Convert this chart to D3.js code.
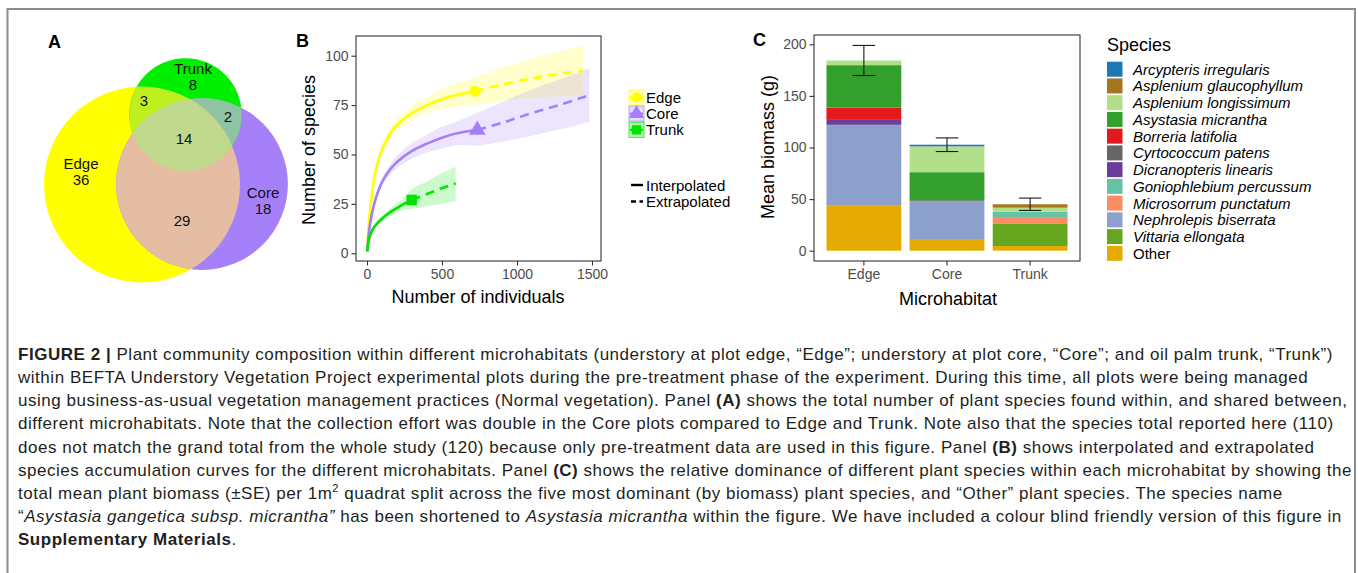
<!DOCTYPE html>
<html>
<head>
<meta charset="utf-8">
<script src="https://cdn.jsdelivr.net/npm/d3@7"></script>
<style>
  body { margin: 0; background: #fff; }
  text { font-family: "Liberation Sans", Arial, sans-serif; }
</style>
</head>
<body>
<svg id="fig" width="1358" height="573"></svg>
<script>
// ---- panel A data (venn region counts)
var vennRegions = ["Edge", "Core", "Trunk", "Edge+Trunk", "Core+Trunk", "Edge+Core+Trunk", "Edge+Core"];
var vennCounts = [36, 18, 8, 3, 2, 14, 29];
var vennSets = ["Edge", "Core", "Trunk"];

// ---- panel B data: [individuals, species, lower, upper]
var edgeInterp = [[1,1,1,1],[12,15,14.5,15.5],[25,25,24,26],[50,39,37.5,40.5],[75,47,45.5,48.5],[100,52.5,50.5,54.5],[150,60,57.5,62.5],[200,65,62,68],
  [300,71,67.5,74.5],[400,75,71,79],[500,78,73,83],[600,80.2,74.2,86.2],[720,82,75,89]];
var edgeExtrap = [[720,82,75,89],[900,85.5,77,94],[1100,88.5,78.5,98.5],[1300,91,79.5,102.5],[1440,92.4,80,105]];
var coreInterp = [[1,1,1,1],[12,10,9.5,10.5],[25,17,16,18],[50,25.5,24,27],[75,31.5,30,33],[100,36,34,38],[150,42,39.5,44.5],[200,46.2,43,49.4],
  [300,51.8,47.8,55.8],[400,55.5,51,60],[500,58.5,53,64],[600,60.7,54.7,66.7],[735,62.4,54.5,71]];
var coreExtrap = [[735,62.4,54.5,71],[900,66,56.5,76.5],[1100,71,59.5,83],[1300,75.5,63,88.5],[1482,80,66.5,93.5]];
var trunkInterp = [[1,1,1,1],[12,6.5,6.2,6.8],[25,10,9.5,10.5],[50,13.5,12.5,14.5],[100,17.5,16,19],[150,20.5,18.5,22.5],
  [200,22.9,20.6,25.2],[250,25.1,22.1,28.1],[298,27,22.5,32.5]];
var trunkExtrap = [[298,27,22.5,32.5],[400,30,23.8,36.5],[500,33,25.2,40.5],[591,35.4,26.5,43.8]];
var curveNames = ["Edge", "Core", "Trunk"];
var curveColors = ["#FFFF00", "#A47FF7", "#00E400"];
var xTicksB = [0, 500, 1000, 1500];
var yTicksB = [0, 25, 50, 75, 100];

// ---- panel C data
var microhabitats = ["Edge", "Core", "Trunk"];
var species = ["Arcypteris irregularis", "Asplenium glaucophyllum", "Asplenium longissimum", "Asystasia micrantha",
  "Borreria latifolia", "Cyrtococcum patens", "Dicranopteris linearis", "Goniophlebium percussum",
  "Microsorrum punctatum", "Nephrolepis biserrata", "Vittaria ellongata", "Other"];
var speciesColors = ["#1F78B4", "#A6761D", "#B2DF8A", "#33A02C", "#E31A1C", "#666666", "#6A3D9A", "#66C2A5",
  "#FC8D62", "#8DA0CB", "#66A61E", "#E6AB02"];
var edgeBiomass  = [0,   0,   4.5, 41,   11.3, 0,   5.5, 0,   0,   78.5, 0,  43.5];
var coreBiomass  = [1.6, 0,   25,  27.2, 0,    0.8, 0,   0,   0,   36.8, 0,  11.3];
var trunkBiomass = [0,   3.3, 3.9, 0,    0,    0,   0,   5.2, 6.1, 0,    22, 4.5];
var biomassSE = [14.6, 6.6, 6];
var yTicksC = [0, 50, 100, 150, 200];

var svg = d3.select("#fig");
var axisGrey = "#333333", tickText = "#4D4D4D";

// figure frame
svg.append("path").attr("d", "M7.5,573V9H1355V573").attr("fill", "none")
  .attr("stroke", "#8c8c8c").attr("stroke-width", 2);

// panel letters
[["A", 48, 48], ["B", 296, 47], ["C", 753, 46]].forEach(function (p) {
  svg.append("text").attr("x", p[1]).attr("y", p[2]).text(p[0])
    .style("font-weight", "bold").style("font-size", "18px").attr("fill", "#000");
});

// ================= Panel A: Venn =================
var setTotals = vennSets.map(function (s) {
  return d3.sum(vennRegions, function (r, i) { return r.split("+").indexOf(s) >= 0 ? vennCounts[i] : 0; });
});
var rScale = d3.scaleSqrt().domain([0, d3.max(setTotals)]).range([0, 98]);
var vennCentre = {Edge: [142, 184.5], Core: [202, 184], Trunk: [185.5, 114.5]};
var regionFill = {"Edge": "#FFFF00", "Core": "#A680F8", "Trunk": "#00EE00", "Edge+Core": "#E5BDA3",
  "Edge+Trunk": "#BDF01E", "Core+Trunk": "#8EC3A4", "Edge+Core+Trunk": "#C1D98C"};
var labelPos = {"Edge": [81, 163], "Core": [263, 192], "Trunk": [193, 68], "Edge+Trunk": [144, 100],
  "Core+Trunk": [228, 116], "Edge+Core+Trunk": [184, 138], "Edge+Core": [182, 220]};

var defs = svg.append("defs");
vennSets.forEach(function (s, i) {
  defs.append("clipPath").attr("id", "clip-" + s).append("circle")
    .attr("cx", vennCentre[s][0]).attr("cy", vennCentre[s][1]).attr("r", rScale(setTotals[i]));
});
var venn = svg.append("g");
function vennCircle(sel, s) {
  var i = vennSets.indexOf(s);
  return sel.append("circle").attr("cx", vennCentre[s][0]).attr("cy", vennCentre[s][1]).attr("r", rScale(setTotals[i]));
}
// single sets, then pairs, then triple
vennRegions.slice().sort(function (a, b) { return a.split("+").length - b.split("+").length; })
  .forEach(function (r) {
    var parts = r.split("+");
    var g = venn;
    parts.slice(0, -1).forEach(function (s) { g = g.append("g").attr("clip-path", "url(#clip-" + s + ")"); });
    vennCircle(g, parts[parts.length - 1]).attr("fill", regionFill[r]);
  });
vennRegions.forEach(function (r, i) {
  var p = labelPos[r];
  var t = venn.append("text").attr("x", p[0]).attr("y", p[1]).attr("text-anchor", "middle")
    .attr("dominant-baseline", "central").style("font-size", "15px").attr("fill", "#111");
  if (r.indexOf("+") < 0) {
    t.text(r);
    venn.append("text").attr("x", p[0]).attr("y", p[1] + 16.5).attr("text-anchor", "middle")
      .attr("dominant-baseline", "central").style("font-size", "15px").attr("fill", "#111").text(vennCounts[i]);
  } else {
    t.text(vennCounts[i]);
  }
});

// ================= Panel B: accumulation curves =================
var xB = d3.scaleLinear().domain([0, 1500]).range([367, 592]);
var yB = d3.scaleLinear().domain([0, 100]).range([253.3, 55.7]);
var gB = svg.append("g");
var bands = [[edgeInterp, edgeExtrap], [coreInterp, coreExtrap], [trunkInterp, trunkExtrap]];

var area = d3.area().x(function (d) { return xB(d[0]); }).y0(function (d) { return yB(d[2]); })
  .y1(function (d) { return yB(d[3]); }).curve(d3.curveCatmullRom.alpha(0.5));
var line = d3.line().x(function (d) { return xB(d[0]); }).y(function (d) { return yB(d[1]); })
  .curve(d3.curveCatmullRom.alpha(0.5));

bands.forEach(function (b, i) {
  gB.append("path").datum(b[0].concat(b[1].slice(1))).attr("d", area)
    .attr("fill", curveColors[i]).attr("fill-opacity", 0.2);
});
bands.forEach(function (b, i) {
  gB.append("path").datum(b[0]).attr("d", line).attr("fill", "none")
    .attr("stroke", curveColors[i]).attr("stroke-width", 2.6);
  gB.append("path").datum(b[1]).attr("d", line).attr("fill", "none")
    .attr("stroke", curveColors[i]).attr("stroke-width", 2.6).attr("stroke-dasharray", "9,6");
});
var symbols = [d3.symbolCircle, d3.symbolTriangle, d3.symbolSquare];
var symSize = [100, 120, 110];
bands.forEach(function (b, i) {
  var obs = b[0][b[0].length - 1];
  gB.append("path").attr("d", d3.symbol().type(symbols[i]).size(symSize[i])())
    .attr("transform", "translate(" + xB(obs[0]) + "," + yB(obs[1]) + ")").attr("fill", curveColors[i]);
});

// panel B frame + axes
gB.append("rect").attr("x", 356).attr("y", 36).attr("width", 245).attr("height", 225)
  .attr("fill", "none").attr("stroke", axisGrey).attr("stroke-width", 1.1);
function styleAxis(g) {
  g.select(".domain").remove();
  g.selectAll(".tick line").attr("stroke", axisGrey).attr("stroke-width", 1.1);
  g.selectAll(".tick text").attr("fill", tickText).style("font-size", "14px")
    .style("font-family", "'Liberation Sans', Arial, sans-serif");
}
gB.append("g").attr("transform", "translate(0,261)")
  .call(d3.axisBottom(xB).tickValues(xTicksB).tickFormat(d3.format("d")).tickSize(4.5).tickPadding(4)).call(styleAxis);
gB.append("g").attr("transform", "translate(356,0)")
  .call(d3.axisLeft(yB).tickValues(yTicksB).tickSize(4.5).tickPadding(3)).call(styleAxis);
gB.append("text").attr("x", 478).attr("y", 303).attr("text-anchor", "middle").style("font-size", "18px")
  .attr("fill", "#000").text("Number of individuals");
gB.append("text").attr("transform", "translate(315,150) rotate(-90)").attr("text-anchor", "middle")
  .style("font-size", "18px").attr("fill", "#000").text("Number of species");

// panel B legends
var legB = gB.append("g").attr("transform", "translate(629,90)");
curveNames.forEach(function (n, i) {
  var g = legB.append("g").attr("transform", "translate(0," + (i * 16.2) + ")");
  g.append("rect").attr("width", 15).attr("height", 15).attr("fill", curveColors[i]).attr("fill-opacity", 0.25)
    .attr("stroke", curveColors[i]).attr("stroke-opacity", 0.6).attr("stroke-width", 1.2);
  g.append("line").attr("x1", 1).attr("x2", 14).attr("y1", 7.5).attr("y2", 7.5)
    .attr("stroke", curveColors[i]).attr("stroke-width", 2.4);
  g.append("path").attr("d", d3.symbol().type(symbols[i]).size(symSize[i] * 0.8)())
    .attr("transform", "translate(7.5,7.5)").attr("fill", curveColors[i]);
  g.append("text").attr("x", 17).attr("y", 7.5).attr("dominant-baseline", "central")
    .style("font-size", "15px").attr("fill", "#000").text(n);
});
var lineTypes = ["Interpolated", "Extrapolated"];
lineTypes.forEach(function (n, i) {
  var y = 185 + i * 16.5;
  gB.append("line").attr("x1", 631).attr("x2", 643).attr("y1", y).attr("y2", y).attr("stroke", "#000")
    .attr("stroke-width", 2.4).attr("stroke-dasharray", i ? "5,3.5" : null);
  gB.append("text").attr("x", 646).attr("y", y).attr("dominant-baseline", "central")
    .style("font-size", "15px").attr("fill", "#000").text(n);
});

// ================= Panel C: stacked biomass =================
var xC = d3.scaleBand().domain(microhabitats).range([814, 1080]).paddingInner(0.1).paddingOuter(0.15);
var yC = d3.scaleLinear().domain([0, 200]).range([250.7, 44.3]);
var gC = svg.append("g");
var rows = [edgeBiomass, coreBiomass, trunkBiomass].map(function (vals, i) {
  var o = {hab: microhabitats[i]};
  species.forEach(function (s, j) { o[s] = vals[j]; });
  return o;
});
var stackOrder = species.slice().reverse();
var stacked = d3.stack().keys(stackOrder)(rows);
var colorC = d3.scaleOrdinal().domain(species).range(speciesColors);
gC.selectAll("g.layer").data(stacked).enter().append("g").attr("class", "layer")
  .attr("fill", function (d) { return colorC(d.key); })
  .selectAll("rect").data(function (d) { return d; }).enter().append("rect")
  .attr("x", function (d) { return xC(d.data.hab); }).attr("width", xC.bandwidth())
  .attr("y", function (d) { return yC(d[1]); })
  .attr("height", function (d) { return Math.max(0, yC(d[0]) - yC(d[1])); });

var totals = rows.map(function (r) { return d3.sum(species, function (s) { return r[s]; }); });
microhabitats.forEach(function (h, i) {
  var cx = xC(h) + xC.bandwidth() / 2, w = xC.bandwidth() * 0.15;
  var lo = yC(totals[i] - biomassSE[i]), hi = yC(totals[i] + biomassSE[i]);
  var eb = gC.append("g").attr("stroke", "#1a1a1a").attr("stroke-width", 1.1);
  eb.append("line").attr("x1", cx).attr("x2", cx).attr("y1", lo).attr("y2", hi);
  eb.append("line").attr("x1", cx - w).attr("x2", cx + w).attr("y1", lo).attr("y2", lo);
  eb.append("line").attr("x1", cx - w).attr("x2", cx + w).attr("y1", hi).attr("y2", hi);
});

gC.append("rect").attr("x", 814).attr("y", 35).attr("width", 266).attr("height", 226)
  .attr("fill", "none").attr("stroke", axisGrey).attr("stroke-width", 1.1);
gC.append("g").attr("transform", "translate(0,261)")
  .call(d3.axisBottom(xC).tickSize(4.5).tickPadding(4)).call(styleAxis);
gC.append("g").attr("transform", "translate(814,0)")
  .call(d3.axisLeft(yC).tickValues(yTicksC).tickSize(4.5).tickPadding(3)).call(styleAxis);
gC.append("text").attr("x", 948).attr("y", 305).attr("text-anchor", "middle").style("font-size", "18px")
  .attr("fill", "#000").text("Microhabitat");
gC.append("text").attr("transform", "translate(774,147) rotate(-90)").attr("text-anchor", "middle")
  .style("font-size", "18px").attr("fill", "#000").text("Mean biomass (g)");

var legC = gC.append("g").attr("transform", "translate(1107,45)");
legC.append("text").attr("x", 0).attr("y", 0).attr("dominant-baseline", "central")
  .style("font-size", "18px").attr("fill", "#000").text("Species");
species.forEach(function (s, i) {
  var y = 16.7 + i * 16.74;
  legC.append("rect").attr("x", 0).attr("y", y).attr("width", 15.5).attr("height", 15).attr("fill", colorC(s));
  legC.append("text").attr("x", 26).attr("y", y + 7.5).attr("dominant-baseline", "central")
    .style("font-size", "15px").style("font-style", s === "Other" ? "normal" : "italic")
    .attr("fill", "#000").text(s);
});

// ================= Caption =================
var captionLines = [
  "**FIGURE 2 |** Plant community composition within different microhabitats (understory at plot edge, \u201cEdge\u201d; understory at plot core, \u201cCore\u201d; and oil palm trunk, \u201cTrunk\u201d)",
  "within BEFTA Understory Vegetation Project experimental plots during the pre-treatment phase of the experiment. During this time, all plots were being managed",
  "using business-as-usual vegetation management practices (Normal vegetation). Panel **(A)** shows the total number of plant species found within, and shared between,",
  "different microhabitats. Note that the collection effort was double in the Core plots compared to Edge and Trunk. Note also that the species total reported here (110)",
  "does not match the grand total from the whole study (120) because only pre-treatment data are used in this figure. Panel **(B)** shows interpolated and extrapolated",
  "species accumulation curves for the different microhabitats. Panel **(C)** shows the relative dominance of different plant species within each microhabitat by showing the",
  "total mean plant biomass (\u00b1SE) per 1m^2^ quadrat split across the five most dominant (by biomass) plant species, and \u201cOther\u201d plant species. The species name",
  "\u201c__Asystasia gangetica subsp. micrantha\u201d__ has been shortened to __Asystasia micrantha__ within the figure. We have included a colour blind friendly version of this figure in",
  "**Supplementary Materials**."
];
var cap = svg.append("g");
var capTexts = captionLines.map(function (ln, i) {
  var t = cap.append("text").attr("x", 18).attr("y", 360 + i * 23.15).style("font-size", "17px").attr("fill", "#231f20");
  var afterSup = false;
  ln.split(/(\*\*[^*]+\*\*|__[^_]+__|\^[^^]+\^)/).forEach(function (seg) {
    if (!seg) return;
    var ts = t.append("tspan");
    if (seg.indexOf("**") === 0) ts.text(seg.slice(2, -2)).style("font-weight", "bold");
    else if (seg.indexOf("__") === 0) ts.text(seg.slice(2, -2)).style("font-style", "italic");
    else if (seg.indexOf("^") === 0) ts.text(seg.slice(1, -1)).attr("dy", -7).style("font-size", "11px");
    else ts.text(seg);
    if (afterSup) ts.attr("dy", 7);
    afterSup = seg.indexOf("^") === 0;
  });
  return t;
});
// tracking so the first line spans the caption width
var natural = capTexts[0].node().getComputedTextLength();
var nChars = captionLines[0].replace(/\*\*/g, "").length;
var spacing = (1315 - natural) / nChars;
capTexts.forEach(function (t) { t.style("letter-spacing", spacing + "px"); });
</script>
</body>
</html>
